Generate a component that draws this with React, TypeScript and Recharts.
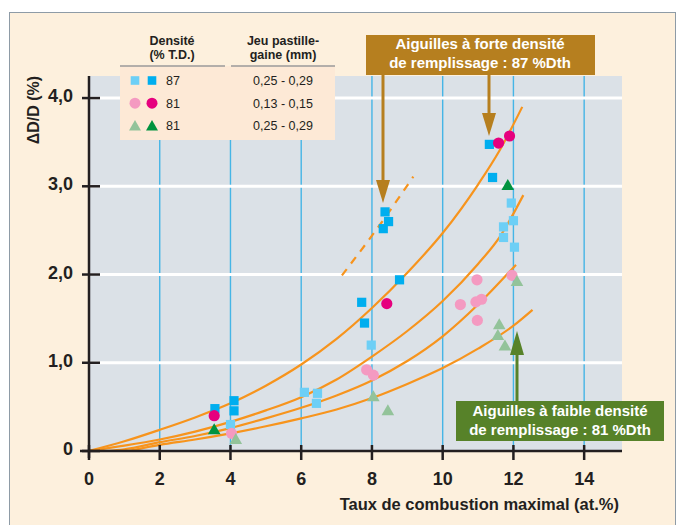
import { ComposedChart, Line, Scatter, XAxis, YAxis, ReferenceLine, ReferenceArea } from "recharts";

// burnup (at.%) vs ΔD/D (%)
const curveA = [
  { x: 0, y: 0 }, { x: 1, y: 0.11 }, { x: 2, y: 0.24 }, { x: 3, y: 0.38 }, { x: 4, y: 0.54 },
  { x: 5, y: 0.74 }, { x: 6, y: 0.98 }, { x: 7, y: 1.27 }, { x: 8, y: 1.62 }, { x: 9, y: 2.02 },
  { x: 10, y: 2.47 }, { x: 11, y: 3.02 }, { x: 11.6, y: 3.4 }, { x: 12.25, y: 3.9 },
];
const curveB = [
  { x: 0, y: 0 }, { x: 1, y: 0.06 }, { x: 2, y: 0.13 }, { x: 3, y: 0.22 }, { x: 4, y: 0.33 },
  { x: 5, y: 0.46 }, { x: 6, y: 0.61 }, { x: 7, y: 0.81 }, { x: 8, y: 1.07 }, { x: 9, y: 1.36 },
  { x: 10, y: 1.7 }, { x: 11, y: 2.12 }, { x: 11.62, y: 2.43 }, { x: 12.28, y: 2.9 },
];
const curveC = [
  { x: 0.5, y: 0 }, { x: 1, y: 0.02 }, { x: 2, y: 0.1 }, { x: 3, y: 0.17 }, { x: 4, y: 0.26 },
  { x: 5, y: 0.37 }, { x: 6, y: 0.49 }, { x: 7, y: 0.63 }, { x: 8, y: 0.8 }, { x: 9, y: 1.02 },
  { x: 10, y: 1.3 }, { x: 11, y: 1.66 }, { x: 12.07, y: 2.11 },
];
const curveD = [
  { x: 1.1, y: 0 }, { x: 2, y: 0.07 }, { x: 3, y: 0.13 }, { x: 4, y: 0.2 }, { x: 5, y: 0.28 },
  { x: 6, y: 0.37 }, { x: 7, y: 0.47 }, { x: 8, y: 0.6 }, { x: 9, y: 0.76 }, { x: 10, y: 0.94 },
  { x: 11, y: 1.16 }, { x: 12, y: 1.42 }, { x: 12.54, y: 1.6 },
];
const curveDashed = [{ x: 7.15, y: 1.99 }, { x: 8.2, y: 2.55 }, { x: 9.17, y: 3.11 }];

const sq87Light = [
  { x: 4.0, y: 0.3 }, { x: 6.09, y: 0.665 }, { x: 6.46, y: 0.654 }, { x: 6.43, y: 0.54 },
  { x: 7.98, y: 1.2 }, { x: 11.94, y: 2.81 }, { x: 12.0, y: 2.61 }, { x: 11.72, y: 2.54 },
  { x: 11.72, y: 2.42 }, { x: 12.03, y: 2.31 },
];
const sq87Dark = [
  { x: 3.56, y: 0.48 }, { x: 4.1, y: 0.57 }, { x: 4.1, y: 0.455 }, { x: 7.71, y: 1.685 },
  { x: 7.79, y: 1.45 }, { x: 8.78, y: 1.94 }, { x: 8.37, y: 2.71 }, { x: 8.47, y: 2.6 },
  { x: 8.32, y: 2.52 }, { x: 11.41, y: 3.1 }, { x: 11.32, y: 3.475 },
];
const circ81Light = [
  { x: 4.03, y: 0.2 }, { x: 7.85, y: 0.92 }, { x: 8.04, y: 0.86 }, { x: 10.97, y: 1.94 },
  { x: 10.5, y: 1.66 }, { x: 10.94, y: 1.69 }, { x: 11.1, y: 1.72 }, { x: 10.98, y: 1.48 },
  { x: 11.96, y: 1.99 },
];
const circ81Dark = [{ x: 3.54, y: 0.4 }, { x: 8.42, y: 1.67 }, { x: 11.58, y: 3.49 }, { x: 11.89, y: 3.57 }];
const tri81Dark = [{ x: 3.54, y: 0.24 }, { x: 11.84, y: 3.01 }];
const tri81Light = [
  { x: 4.15, y: 0.13 }, { x: 8.04, y: 0.615 }, { x: 8.45, y: 0.457 }, { x: 12.1, y: 1.92 },
  { x: 11.6, y: 1.43 }, { x: 11.56, y: 1.31 }, { x: 11.76, y: 1.19 },
];

const xTicks = [0, 2, 4, 6, 8, 10, 12, 14];
const yTicks = [0, 1, 2, 3, 4];
const gridX = [2, 4, 6, 8, 10, 12, 14];
const gridY = [1, 2, 3, 4];

const legendRows = [
  { shape: "square", light: "#6dcff6", dark: "#00aeef", density: "87", gap: "0,25 - 0,29" },
  { shape: "circle", light: "#f49ac1", dark: "#e6007e", density: "81", gap: "0,13 - 0,15" },
  { shape: "triangle", light: "#93c39a", dark: "#00933f", density: "81", gap: "0,25 - 0,29" },
];

const FONT = "'Liberation Sans', Arial, Helvetica, sans-serif";
const INK = "#231f20";
const ORANGE = "#f7941d";

const Square = (color: string) => (p: any) => (
  <rect x={p.cx - 4.6} y={p.cy - 4.6} width={9.2} height={9.2} fill={color} />
);
const Circle = (color: string) => (p: any) => <circle cx={p.cx} cy={p.cy} r={5.6} fill={color} />;
const Triangle = (color: string) => (p: any) => (
  <polygon points={`${p.cx},${p.cy - 6.5} ${p.cx - 6.3},${p.cy + 4.5} ${p.cx + 6.3},${p.cy + 4.5}`} fill={color} />
);

const XTick = (p: any) => {
  const { x, y, payload } = p;
  return (
    <g>
      <line x1={x} x2={x} y1={y - 6} y2={y + 9} stroke={INK} strokeWidth={2.5} />
      {payload.value === 0 && <line x1={x - 9} x2={x} y1={y} y2={y} stroke={INK} strokeWidth={2.5} />}
      <text x={x} y={y + 34} textAnchor="middle" fontFamily={FONT} fontWeight="bold" fontSize={18} fill={INK}>
        {payload.value}
      </text>
    </g>
  );
};

const YTick = (p: any) => {
  const { x, y, payload } = p;
  const label = payload.value === 0 ? "0" : payload.value.toFixed(1).replace(".", ",");
  return (
    <g>
      <line x1={x - 7} x2={x + 11} y1={y} y2={y} stroke={INK} strokeWidth={2.5} />
      {payload.value === 0 && <line x1={x} x2={x} y1={y} y2={y + 7} stroke={INK} strokeWidth={2.5} />}
      <text x={x - 16} y={y + 4} textAnchor="end" fontFamily={FONT} fontWeight="bold" fontSize={18} fill={INK}>
        {label}
      </text>
    </g>
  );
};

function LegendMark({ shape, color, cx, cy }: { shape: string; color: string; cx: number; cy: number }) {
  if (shape === "square") return <rect x={cx - 4.3} y={cy - 4.3} width={8.6} height={8.6} fill={color} />;
  if (shape === "circle") return <circle cx={cx} cy={cy} r={5.5} fill={color} />;
  return <polygon points={`${cx},${cy - 6} ${cx - 6},${cy + 4.5} ${cx + 6},${cy + 4.5}`} fill={color} />;
}

function Overlay() {
  return (
    <svg width={680} height={525} style={{ position: "absolute", left: 0, top: 0, pointerEvents: "none" }}>
      {/* legend table */}
      <rect x={120} y={66} width={215} height={74} fill="#fde9d6" />
      <line x1={120} x2={225} y1={66} y2={66} stroke="#9a9a9a" strokeWidth={1.5} />
      <line x1={231} x2={335} y1={66} y2={66} stroke="#9a9a9a" strokeWidth={1.5} />
      <g fontFamily={FONT} fontSize={12.5} fill={INK}>
        <text x={172} y={45} textAnchor="middle" fontWeight="bold">Densité</text>
        <text x={172} y={59} textAnchor="middle" fontWeight="bold">(% T.D.)</text>
        <text x={283} y={45} textAnchor="middle" fontWeight="bold">Jeu pastille-</text>
        <text x={283} y={59} textAnchor="middle" fontWeight="bold">gaine (mm)</text>
        {legendRows.map((r, i) => {
          const cy = 80.5 + i * 22.7;
          return (
            <g key={i}>
              <LegendMark shape={r.shape} color={r.light} cx={135} cy={cy} />
              <LegendMark shape={r.shape} color={r.dark} cx={152} cy={cy} />
              <text x={166} y={cy + 4.5}>{r.density}</text>
              <text x={283} y={cy + 4.5} textAnchor="middle">{r.gap}</text>
            </g>
          );
        })}
      </g>

      {/* high density callout */}
      <line x1={383} x2={383} y1={75} y2={184} stroke="#b67f1f" strokeWidth={3} />
      <polygon points="376,180 390,180 383,203" fill="#b67f1f" />
      <line x1={489} x2={489} y1={75} y2={116} stroke="#b67f1f" strokeWidth={3} />
      <polygon points="482,113 496,113 489,136" fill="#b67f1f" />
      <rect x={366} y={35} width={229} height={40} fill="#b67f1f" />
      <g fontFamily={FONT} fontWeight="bold" fontSize={15} fill="#ffffff" textAnchor="middle">
        <text x={480} y={49}>Aiguilles à forte densité</text>
        <text x={480} y={68}>de remplissage : 87 %Dth</text>
      </g>

      {/* low density callout */}
      <line x1={517} x2={517} y1={352} y2={401} stroke="#578229" strokeWidth={3} />
      <polygon points="510,355 524,355 517,331" fill="#578229" />
      <rect x={456} y={401} width={208} height={40} fill="#578229" />
      <g fontFamily={FONT} fontWeight="bold" fontSize={15} fill="#ffffff" textAnchor="middle">
        <text x={560} y={415.5}>Aiguilles à faible densité</text>
        <text x={560} y={434.5}>de remplissage : 81 %Dth</text>
      </g>

      {/* axis titles */}
      <text x={39} y={110} transform="rotate(-90 39 110)" textAnchor="middle" fontFamily={FONT} fontWeight="bold" fontSize={16} fill={INK}>
        ΔD/D (%)
      </text>
      <text x={619} y={510} textAnchor="end" fontFamily={FONT} fontWeight="bold" fontSize={16.5} fill={INK}>
        Taux de combustion maximal (at.%)
      </text>
    </svg>
  );
}

export default function App() {
  return (
    <div style={{ position: "absolute", left: 0, top: 0, width: 680, height: 525, overflow: "hidden" }}>
      <div
        style={{
          position: "absolute",
          left: 9,
          top: 12,
          width: 667,
          height: 520,
          background: "#fdf0dd",
          border: "1.5px solid #8e9ba6",
          boxSizing: "border-box",
        }}
      />
      <div style={{ position: "absolute", left: 0, top: 0 }}>
        <ComposedChart width={680} height={525} margin={{ top: 76, right: 58, bottom: 44, left: 29 }}>
          <XAxis
            dataKey="x"
            type="number"
            domain={[0, 15.07]}
            ticks={xTicks}
            interval={0}
            height={30}
            tickSize={0}
            tickMargin={0}
            tick={XTick}
            axisLine={{ stroke: INK, strokeWidth: 2.5 }}
            allowDataOverflow
          />
          <YAxis
            dataKey="y"
            type="number"
            domain={[0, 4.25]}
            ticks={yTicks}
            interval={0}
            width={60}
            tickSize={0}
            tickMargin={0}
            tick={YTick}
            axisLine={{ stroke: INK, strokeWidth: 2.5 }}
            allowDataOverflow
          />
          <ReferenceArea x1={0} x2={15.07} y1={0} y2={4.25} fill="#dbe1e7" fillOpacity={1} stroke="none" />
          {gridX.map((v) => (
            <ReferenceLine key={`gx${v}`} x={v} stroke="#45b5e6" strokeWidth={1.4} />
          ))}
          {gridY.map((v) => (
            <ReferenceLine key={`gy${v}`} y={v} stroke="#ffffff" strokeWidth={3} />
          ))}
          <Line data={curveA} dataKey="y" type="monotone" stroke={ORANGE} strokeWidth={2.2} dot={false} isAnimationActive={false} />
          <Line data={curveB} dataKey="y" type="monotone" stroke={ORANGE} strokeWidth={2.2} dot={false} isAnimationActive={false} />
          <Line data={curveC} dataKey="y" type="monotone" stroke={ORANGE} strokeWidth={2.2} dot={false} isAnimationActive={false} />
          <Line data={curveD} dataKey="y" type="monotone" stroke={ORANGE} strokeWidth={2.2} dot={false} isAnimationActive={false} />
          <Line data={curveDashed} dataKey="y" type="monotone" stroke={ORANGE} strokeWidth={2.2} strokeDasharray="8 7" dot={false} isAnimationActive={false} />
          <Scatter data={sq87Light} shape={Square("#6dcff6")} isAnimationActive={false} />
          <Scatter data={sq87Dark} shape={Square("#00aeef")} isAnimationActive={false} />
          <Scatter data={circ81Light} shape={Circle("#f49ac1")} isAnimationActive={false} />
          <Scatter data={circ81Dark} shape={Circle("#e6007e")} isAnimationActive={false} />
          <Scatter data={tri81Light} shape={Triangle("#93c39a")} isAnimationActive={false} />
          <Scatter data={tri81Dark} shape={Triangle("#00933f")} isAnimationActive={false} />
        </ComposedChart>
      </div>
      <Overlay />
    </div>
  );
}
